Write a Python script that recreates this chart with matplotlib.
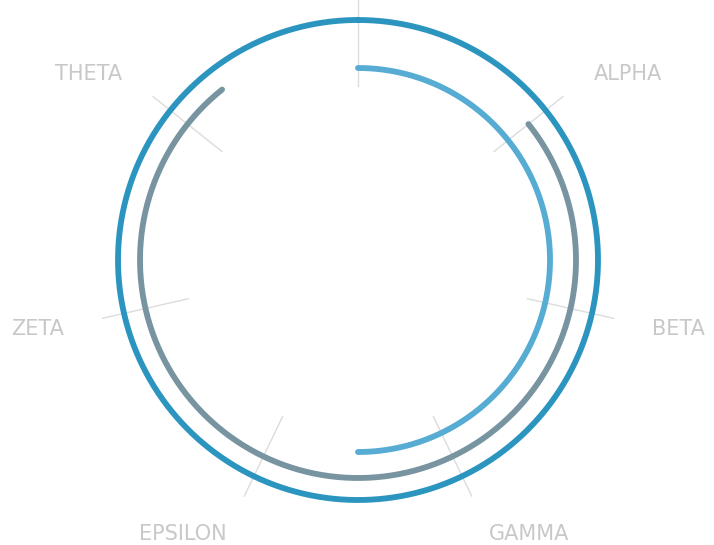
import numpy as np
import matplotlib
matplotlib.use('Agg')
import matplotlib.pyplot as plt

# ── Dados ─────────────────────────────────────────────────────────────────────
categorias = ['', 'ALPHA', 'BETA', 'GAMMA', 'EPSILON', 'ZETA', 'THETA']
valores    = [100, 75, 50]          # % do círculo
inicio     = [0, 1, 0]              # início em unidades de categoria
cores      = ['#2b95c0', '#7794a0', '#56acd3']

RAIOS      = [240, 218, 192]
R_MAX      = 340
N_CAT      = len(categorias)

fig = plt.figure(figsize=(7.14, 5.45), dpi=100)
cx, cy = 358, 545 - 260
ax = fig.add_axes([(cx - R_MAX) / 714, (cy - R_MAX) / 545,
                   2 * R_MAX / 714, 2 * R_MAX / 545], projection='polar')
ax.set_theta_zero_location('N')
ax.set_theta_direction(-1)
ax.set_ylim(0, R_MAX)
ax.axis('off')

passo = 2 * np.pi / N_CAT

# linhas de grade curtas
for i in range(N_CAT):
    t = i * passo
    ax.plot([t, t], [174, 262], color='#dcdcdc', lw=1.0, zorder=1)

# rótulos
for i, nome in enumerate(categorias):
    if not nome:
        continue
    t = i * passo
    ha = 'left' if np.sin(t) > 0 else 'right'
    ax.text(t, 302, nome, ha=ha, va='center_baseline', fontsize=15,
            color='#c8c8c8', clip_on=False)

# arcos
for v, s, c, r in zip(valores, inicio, cores, RAIOS):
    t0 = s * passo
    th = np.linspace(t0, t0 + 2 * np.pi * v / 100, 400)
    ax.plot(th, np.full_like(th, r), color=c, lw=4.2,
            solid_capstyle='round', zorder=3)

fig.savefig('out.png', dpi=100)
